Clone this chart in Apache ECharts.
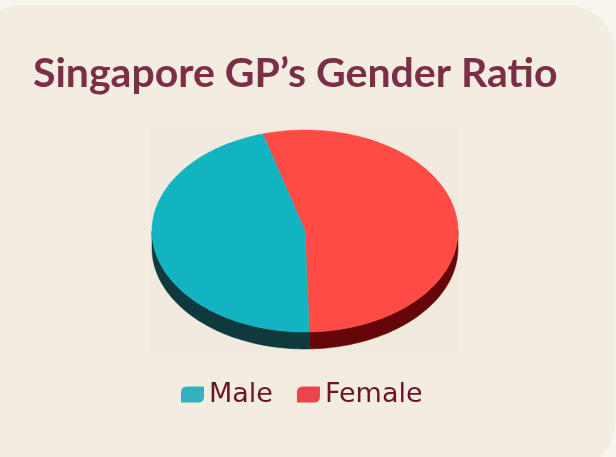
<!DOCTYPE html>
<html>
<head>
<meta charset="utf-8">
<script src="https://cdn.jsdelivr.net/npm/echarts@6/dist/echarts.min.js"></script>
<style>
html,body{margin:0;padding:0;background:#f8f5ef;}
#chart{width:616px;height:457px;}
</style>
</head>
<body>
<div id="chart"></div>
<script>
// Data
var titleText = "Singapore GP\u2019s Gender Ratio";
var categories = ["Female", "Male"];
var values = [54, 46];
var legendOrder = ["Male", "Female"];

var topColors = {Male: "#12b4c1", Female: "#fe4b46"};
var sideColors = {Male: "#0f393c", Female: "#660507"};
var legendColors = {Male: "#33b2bd", Female: "#e9464b"};

var CX = 305, CY = 231, RX = 153, RY = 101, DEPTH = 17, START = -16;
var total = values.reduce(function (a, b) { return a + b; }, 0);

function pt(thetaDeg, dy) {
  var t = thetaDeg * Math.PI / 180;
  return [CX + RX * Math.sin(t), CY - RY * Math.cos(t) + (dy || 0)];
}

function sliceRange(idx) {
  var acc = 0;
  for (var i = 0; i < idx; i++) acc += values[i];
  var a0 = START + acc / total * 360;
  var a1 = a0 + values[idx] / total * 360;
  return [a0, a1];
}

function makeRender(idx) {
  var name = categories[idx];
  return function (params, api) {
    var r = sliceRange(idx);
    var a0 = r[0], a1 = r[1];
    var children = [];
    var s0 = Math.max(a0, 90), s1 = Math.min(a1, 270);
    if (s1 > s0) {
      var pts = [];
      var n = 60;
      for (var i = 0; i <= n; i++) pts.push(pt(s0 + (s1 - s0) * i / n, 0));
      for (var j = n; j >= 0; j--) pts.push(pt(s0 + (s1 - s0) * j / n, DEPTH));
      children.push({
        type: 'polygon',
        shape: {points: pts},
        style: {fill: sideColors[name], stroke: sideColors[name], lineWidth: 0.5}
      });
    }
    var top = [[CX, CY]];
    var m = 120;
    for (var k = 0; k <= m; k++) top.push(pt(a0 + (a1 - a0) * k / m, 0));
    children.push({
      type: 'polygon',
      shape: {points: top},
      style: {fill: topColors[name], stroke: topColors[name], lineWidth: 0.5}
    });
    return {type: 'group', children: children};
  };
}

var chart = echarts.init(document.getElementById('chart'), null, {renderer: 'canvas'});

var series = categories.map(function (name, idx) {
  return {
    type: 'custom',
    name: name,
    coordinateSystem: 'none',
    itemStyle: {color: legendColors[name]},
    renderItem: makeRender(idx),
    data: [[values[idx]]]
  };
});

chart.setOption({
  backgroundColor: '#f8f5ef',
  animation: false,
  graphic: [
    {type: 'rect', z: -10, shape: {x: -25, y: 5, width: 640, height: 465, r: 48},
     style: {fill: '#f3ece1'}},
    {type: 'rect', z: -9, shape: {x: 150, y: 128, width: 309, height: 224},
     style: {fill: '#f0eadf'}}
  ],
  title: {
    text: titleText,
    left: 28,
    top: 48,
    textStyle: {fontFamily: 'Lato', fontWeight: 'bold', fontSize: 41, color: '#7b2e45'}
  },
  legend: {
    data: legendOrder.map(function (n) {
      return {name: n, itemStyle: {color: legendColors[n]}};
    }),
    left: 176,
    top: 376,
    itemWidth: 23,
    itemHeight: 16,
    itemGap: 24,
    icon: 'path://M6,0 H23 V10 Q23,16 17,16 H0 V6 Q0,0 6,0 Z',
    textStyle: {fontFamily: 'DejaVu Sans', fontSize: 27, color: '#6a1429'}
  },
  series: series
});
</script>
</body>
</html>
